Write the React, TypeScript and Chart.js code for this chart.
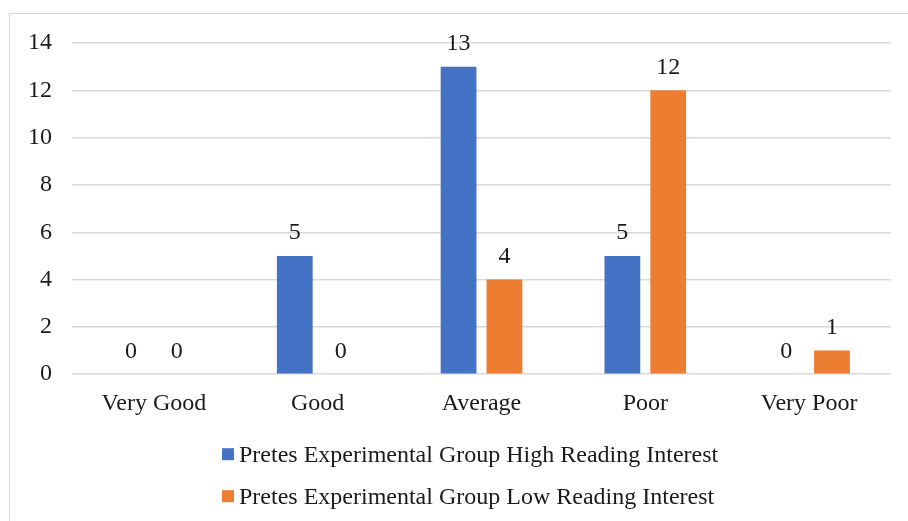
import React, { useEffect, useRef } from "react";
import { Chart, registerables } from "chart.js";

Chart.register(...registerables);

const categories = ["Very Good", "Good", "Average", "Poor", "Very Poor"];
const highInterest = [0, 5, 13, 5, 0];
const lowInterest = [0, 0, 4, 12, 1];
const seriesNames = [
  "Pretes Experimental Group High Reading Interest",
  "Pretes Experimental Group Low Reading Interest",
];
const seriesColors = ["#4472C4", "#ED7D31"];
const yTicks = [0, 2, 4, 6, 8, 10, 12, 14];

const FONT = "'Liberation Serif', 'Times New Roman', serif";
const TEXT = "#1a1a1a";
const FS = 24;

const valueLabels = {
  id: "valueLabels",
  afterDatasetsDraw(chart: any) {
    const ctx = chart.ctx;
    ctx.save();
    ctx.font = `${FS}px ${FONT}`;
    ctx.fillStyle = TEXT;
    ctx.textAlign = "center";
    ctx.textBaseline = "alphabetic";
    chart.data.datasets.forEach((ds: any, i: number) => {
      const meta = chart.getDatasetMeta(i);
      meta.data.forEach((bar: any, j: number) => {
        ctx.fillText(String(ds.data[j]), bar.x, bar.y - 16.5);
      });
    });
    ctx.restore();
  },
};

const stackedLegend = {
  id: "stackedLegend",
  afterDraw(chart: any) {
    const ctx = chart.ctx;
    const area = chart.chartArea;
    const left = area.left + 150;
    const firstY = area.bottom + 80;
    const rowGap = 42;
    ctx.save();
    ctx.font = `${FS}px ${FONT}`;
    ctx.textAlign = "left";
    ctx.textBaseline = "alphabetic";
    chart.data.datasets.forEach((ds: any, i: number) => {
      const cy = firstY + i * rowGap;
      ctx.fillStyle = ds.backgroundColor;
      ctx.fillRect(left, cy - 6, 12, 12);
      ctx.fillStyle = TEXT;
      ctx.fillText(ds.label, left + 17, cy + 8);
    });
    ctx.restore();
  },
};

export default function App() {
  const ref = useRef<HTMLCanvasElement>(null);
  useEffect(() => {
    const chart = new Chart(ref.current!, {
      type: "bar",
      data: {
        labels: categories,
        datasets: [
          {
            label: seriesNames[0],
            data: highInterest,
            backgroundColor: seriesColors[0],
            barPercentage: 0.78,
            categoryPercentage: 0.56,
          },
          {
            label: seriesNames[1],
            data: lowInterest,
            backgroundColor: seriesColors[1],
            barPercentage: 0.78,
            categoryPercentage: 0.56,
          },
        ],
      },
      options: {
        responsive: false,
        animation: false,
        devicePixelRatio: 1,
        layout: { padding: { left: 8, right: 17, top: 43, bottom: 88 } },
        scales: {
          x: {
            grid: { display: false, drawTicks: false },
            border: { display: false },
            ticks: { font: { family: FONT, size: FS }, color: TEXT, padding: 15 },
          },
          y: {
            min: 0,
            max: 14,
            afterBuildTicks: (s: any) => {
              s.ticks = yTicks.map((v) => ({ value: v }));
            },
            grid: { color: "#d9d9d9", lineWidth: 1.5, drawTicks: false },
            border: { display: false },
            ticks: { font: { family: FONT, size: FS }, color: TEXT, padding: 20 },
          },
        },
        plugins: {
          legend: { display: false },
          tooltip: { enabled: false },
        },
      },
      plugins: [valueLabels, stackedLegend],
    });
    return () => chart.destroy();
  }, []);
  return (
    <div style={{ position: "fixed", left: 0, top: 0, width: 908, height: 521, overflow: "hidden", background: "#fff" }}>
      <div
        style={{
          position: "absolute",
          left: 9,
          top: 13,
          width: 940,
          height: 560,
          border: "1.5px solid #d9d9d9",
        }}
      />
      <canvas ref={ref} width={908} height={521} style={{ position: "absolute", left: 0, top: 0 }} />
    </div>
  );
}
